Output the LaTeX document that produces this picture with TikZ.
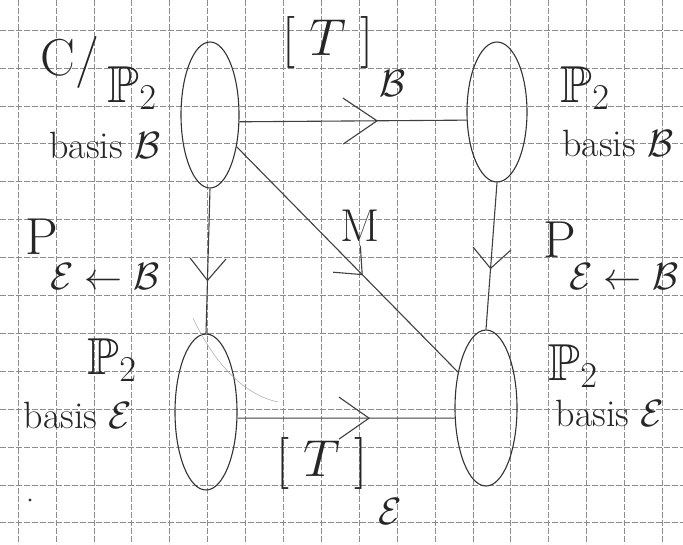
\RequirePackage{fix-cm}
\documentclass[tikz,border=0pt]{standalone}
\usepackage{amssymb}
\usetikzlibrary{shapes.geometric,arrows.meta,decorations.markings}
\begin{document}
\begin{tikzpicture}[x=1pt,y=-1pt,
  blob/.style={draw=black!80, line width=1.1pt, ellipse, inner sep=0pt},
  conn/.style={draw=black!75, line width=1.1pt},
  midarrow/.style n args={3}{postaction={decorate}, decoration={markings, mark=at position #1 with {\arrow{Straight Barb[length=#2,width=#3,line width=1.1pt]}}}},
  hand/.style={font=\fontsize{38}{40}\selectfont, text=black!85, inner sep=0pt},
  big/.style={font=\fontsize{52}{54}\selectfont, text=black!85, inner sep=0pt},
  gridline/.style={draw=black!45, line width=0.6pt, dash pattern=on 6pt off 2pt}]
\useasboundingbox[fill=white] (0,0) rectangle (683,544);
% grid paper
\foreach \i in {0,...,17} \draw[gridline] ({18+37.9*\i},0) -- ({18+37.9*\i},544);
\foreach \j in {0,...,13} \draw[gridline] (0,{30+37.9*\j}) -- (683,{30+37.9*\j});
% spaces
\node[blob, minimum width=58pt, minimum height=146pt] (tl) at (210,115) {};
\node[blob, minimum width=60pt, minimum height=140pt] (tr) at (497,112) {};
\node[blob, minimum width=62pt, minimum height=156pt] (bl) at (206,412) {};
\node[blob, minimum width=62pt, minimum height=156pt] (br) at (486,408) {};
% maps
\draw[conn, midarrow={0.61}{34pt}{46pt}] (tl.-13) -- (tr.195);
\draw[conn, midarrow={0.64}{22pt}{36pt}] (tl.south) -- (bl.north);
\draw[conn, midarrow={0.59}{20pt}{38pt}] (tr.south) -- (br.north);
\draw[conn, midarrow={0.61}{30pt}{42pt}] (bl.-11) -- (br.198);
\draw[conn, midarrow={0.57}{22pt}{38pt}] (tl.-50) -- (br.128);
\draw[black!30, line width=0.6pt] (193,318) .. controls (215,365) and (245,395) .. (278,402);
% labels
\node[big] (tlc) at (70,62) {C/};
\node[big] (tlP) at (132,88) {$\mathbb{P}_2$};
\node[hand] (tlb) at (105,145) {basis $\mathcal{B}$};
\node[big] (Tb) at (328,42) {$[\;T\;]$};
\node[hand] (Tbs) at (393,84) {$\mathcal{B}$};
\node[big] (trP) at (585,88) {$\mathbb{P}_2$};
\node[hand] (trb) at (618,143) {basis $\mathcal{B}$};
\node[font=\fontsize{46}{48}\selectfont, text=black!85, inner sep=0pt] (M) at (360,226) {M};
\node[big] (lP) at (42,237) {P};
\node[hand] (lPs) at (105,277) {$\mathcal{E}\leftarrow\mathcal{B}$};
\node[big] (rP) at (560,240) {P};
\node[hand] (rPs) at (624,277) {$\mathcal{E}\leftarrow\mathcal{B}$};
\node[big] (blP) at (112,360) {$\mathbb{P}_2$};
\node[hand] (blb) at (78,415) {basis $\mathcal{E}$};
\node[big] (brP) at (573,366) {$\mathbb{P}_2$};
\node[hand] (brb) at (610,413) {basis $\mathcal{E}$};
\node[big] (Te) at (322,463) {$[\;T\;]$};
\node[hand] (Tes) at (390,512) {$\mathcal{E}$};
\fill[black!80] (30,500) circle (1.6pt);
\end{tikzpicture}
\end{document}
